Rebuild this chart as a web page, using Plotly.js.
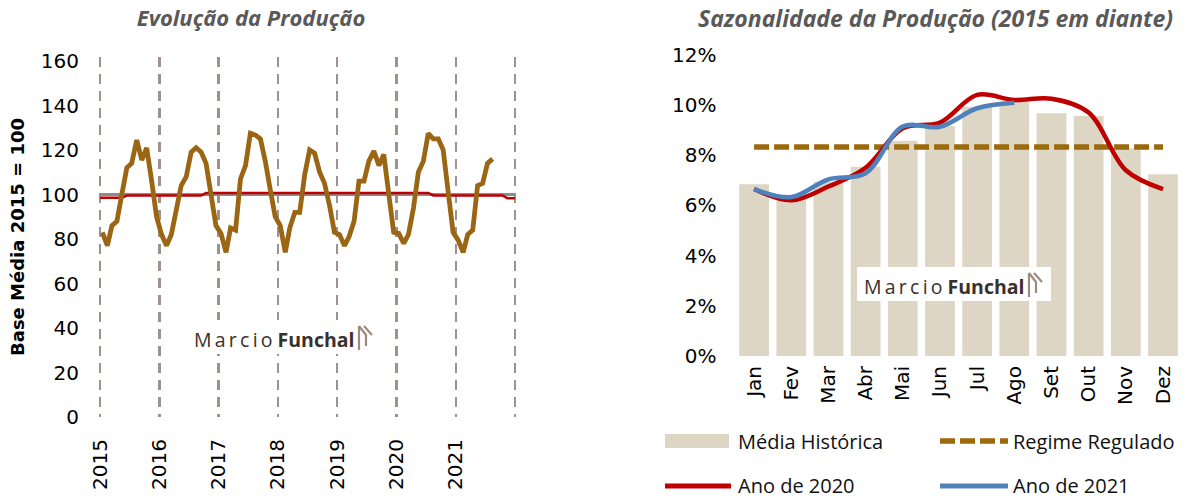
<!DOCTYPE html>
<html>
<head>
<meta charset="utf-8">
<script src="https://cdn.plot.ly/plotly-3.0.1.min.js"></script>
<style>html,body{margin:0;padding:0;background:#fff;} #chart{width:1203px;height:499px;}</style>
</head>
<body>
<div id="chart"></div>
<script>
// ---------- Left chart data (Base Média 2015 = 100) ----------
const years = [2015, 2016, 2017, 2018, 2019, 2020, 2021];
const prod2015 = [83, 77, 86, 88, 100, 112, 114, 124.5, 115.5, 121, 106, 90];
const prod2016 = [82, 77, 82, 92, 104, 108, 119, 121, 119, 114, 101, 86];
const prod2017 = [82.5, 74, 85, 84, 107, 113, 127.5, 126.7, 125, 115, 102, 90];
const prod2018 = [86, 74, 85, 92, 92, 109, 120, 118.5, 110, 105, 95, 83];
const prod2019 = [82, 77, 81, 88, 106, 106, 115, 119.5, 113, 118, 100, 83];
const prod2020 = [82.5, 78, 82, 94, 110, 115, 127.5, 125, 125, 120, 101, 83];
const prod2021 = [79.5, 74, 82, 84, 104, 105, 114, 116];
const yearTickLabels = ['2015', '2016', '2017', '2018', '2019', '2020', '2021', ''];

const baseDates = ['2015-01-01', '2021-12-31'];
const baseValues = [100, 100];
const regimeDates = ['2015-01-01', '2015-05-15', '2015-06-15', '2016-09-15', '2016-10-15',
                     '2020-07-15', '2020-08-15', '2021-10-15', '2021-11-15', '2021-12-31'];
const regimeValues = [98.5, 98.5, 99.5, 99.5, 100.7, 100.7, 99.6, 99.6, 98.3, 98.3];

// ---------- Right chart data (Sazonalidade, %) ----------
const months = ['Jan', 'Fev', 'Mar', 'Abr', 'Mai', 'Jun', 'Jul', 'Ago', 'Set', 'Out', 'Nov', 'Dez'];
const mediaHistorica = [6.84, 6.25, 6.94, 7.54, 8.57, 9.16, 9.93, 10.13, 9.67, 9.56, 8.27, 7.24];
const regimeRegulado = [8.33, 8.33, 8.33, 8.33, 8.33, 8.33, 8.33, 8.33, 8.33, 8.33, 8.33, 8.33];
const ano2020 = [6.65, 6.2, 6.75, 7.5, 9.07, 9.3, 10.4, 10.2, 10.25, 9.7, 7.4, 6.65];
const ano2021 = [6.65, 6.33, 7.04, 7.28, 9.14, 9.13, 9.87, 10.09];
const pctTickVals = [0, 2, 4, 6, 8, 10, 12];
const pctTickText = ['0%', '2%', '4%', '6%', '8%', '10%', '12%'];

// ---------- helpers ----------
const W = 1203, H = 499;
const px = x => x / W;
const py = y => 1 - y / H;
const pad = n => (n < 10 ? '0' : '') + n;

const prodSeries = [prod2015, prod2016, prod2017, prod2018, prod2019, prod2020, prod2021];
const prodX = [], prodY = [];
prodSeries.forEach((arr, i) => {
  arr.forEach((v, m) => { prodX.push(years[i] + '-' + pad(m + 1) + '-15'); prodY.push(v); });
});
const yearTicks = years.map(y => y + '-01-01').concat(['2022-01-01']);

const BROWN = '#9A6614';
const RED = '#C00000';
const BLUE = '#4F81BD';
const BAR = '#DDD6C4';
const GRAY = '#8C8C8C';

const traces = [
  {x: baseDates, y: baseValues, type: 'scatter', mode: 'lines', xaxis: 'x', yaxis: 'y',
   line: {color: GRAY, width: 3}, showlegend: false, hoverinfo: 'skip'},
  {x: regimeDates, y: regimeValues, type: 'scatter', mode: 'lines', xaxis: 'x', yaxis: 'y',
   line: {color: RED, width: 2.5}, showlegend: false},
  {x: prodX, y: prodY, type: 'scatter', mode: 'lines', xaxis: 'x', yaxis: 'y',
   line: {color: BROWN, width: 4.8}, showlegend: false},
  {x: months, y: mediaHistorica, type: 'bar', xaxis: 'x2', yaxis: 'y2', name: 'Média Histórica',
   marker: {color: BAR}, showlegend: false},
  {x: months, y: regimeRegulado, type: 'scatter', mode: 'lines', xaxis: 'x2', yaxis: 'y2', name: 'Regime Regulado',
   line: {color: '#9C6A0A', width: 5.5, dash: '15px,5px'}, showlegend: false},
  {x: months, y: ano2020, type: 'scatter', mode: 'lines', xaxis: 'x2', yaxis: 'y2', name: 'Ano de 2020',
   line: {color: RED, width: 4.5, shape: 'spline'}, showlegend: false},
  {x: months.slice(0, ano2021.length), y: ano2021, type: 'scatter', mode: 'lines', xaxis: 'x2', yaxis: 'y2', name: 'Ano de 2021',
   line: {color: BLUE, width: 4.5, shape: 'spline'}, showlegend: false}
];

const tickFont = {family: 'DejaVu Sans', size: 20, color: '#000'};
const titleFontL = {family: 'Open Sans', size: 22, color: '#595959', style: 'italic', weight: 'bold'};
const titleFontR = {family: 'Open Sans', size: 23, color: '#595959', style: 'italic', weight: 'bold'};
const legFont = {family: 'Open Sans', size: 20, color: '#111'};

// ----- legend (custom, 2x2) -----
const shapes = [
  {type: 'rect', xref: 'paper', yref: 'paper', x0: px(665), x1: px(729), y0: py(448), y1: py(434), fillcolor: BAR, line: {width: 0}},
  {type: 'line', xref: 'paper', yref: 'paper', x0: px(940), x1: px(1008), y0: py(441), y1: py(441), line: {color: '#9C6A0A', width: 5.5, dash: '15px,5px'}},
  {type: 'line', xref: 'paper', yref: 'paper', x0: px(665), x1: px(731), y0: py(486), y1: py(486), line: {color: RED, width: 5}},
  {type: 'line', xref: 'paper', yref: 'paper', x0: px(940), x1: px(1008), y0: py(486), y1: py(486), line: {color: BLUE, width: 5}}
];
// watermark boxes + icons
function wmIcon(x0, top, bottom) {
  const p = (x, y) => px(x) + ',' + py(y);
  return [
    {type: 'rect', layer: 'above', xref: 'paper', yref: 'paper', x0: px(x0 - 172), x1: px(x0 + 22), y0: py(bottom + 4), y1: py(top - 6), fillcolor: '#fff', line: {width: 0}},
    {type: 'path', layer: 'above', xref: 'paper', yref: 'paper', line: {color: '#A08A7C', width: 2.2},
     path: 'M' + p(x0, top) + ' L' + p(x0, bottom) + ' M' + p(x0, top) + ' L' + p(x0 + 7, top + 9) + ' L' + p(x0 + 7, bottom - 4) +
           ' M' + p(x0 + 5, top) + ' L' + p(x0 + 13, top + 9)}
  ];
}
shapes.push(...wmIcon(359, 326, 350));
shapes.push(...wmIcon(1029, 273, 297));

const wmText = 'M\u2009a\u2009r\u2009c\u2009i\u2009o <b>Funchal</b>';
const wmFont = {family: 'Open Sans', size: 19.5, color: '#3a302b'};
const annotations = [
  {text: 'Sazonalidade da Produção (2015 em diante)', xref: 'paper', yref: 'paper', x: px(935), y: py(18),
   xanchor: 'center', yanchor: 'middle', showarrow: false, font: titleFontR},
  {text: wmText, xref: 'paper', yref: 'paper', x: px(357), y: py(339), xanchor: 'right', yanchor: 'middle',
   showarrow: false, font: wmFont},
  {text: wmText, xref: 'paper', yref: 'paper', x: px(1027), y: py(286), xanchor: 'right', yanchor: 'middle',
   showarrow: false, font: wmFont},
  {text: 'Média Histórica', xref: 'paper', yref: 'paper', x: px(736), y: py(441), xanchor: 'left', yanchor: 'middle', showarrow: false, font: legFont},
  {text: 'Regime Regulado', xref: 'paper', yref: 'paper', x: px(1011), y: py(441), xanchor: 'left', yanchor: 'middle', showarrow: false, font: legFont},
  {text: 'Ano de 2020', xref: 'paper', yref: 'paper', x: px(736), y: py(485), xanchor: 'left', yanchor: 'middle', showarrow: false, font: legFont},
  {text: 'Ano de 2021', xref: 'paper', yref: 'paper', x: px(1011), y: py(485), xanchor: 'left', yanchor: 'middle', showarrow: false, font: legFont}
];

const layout = {
  width: W, height: H,
  margin: {l: 0, r: 0, t: 0, b: 0, pad: 0},
  paper_bgcolor: '#fff', plot_bgcolor: 'rgba(0,0,0,0)',
  showlegend: false,
  title: {text: 'Evolução da Produção', x: px(251), xanchor: 'center', xref: 'container',
          y: py(18), yanchor: 'middle', yref: 'container', font: titleFontL},
  xaxis: {domain: [px(90), px(525)], type: 'date', range: ['2014-10-31', '2022-03-03'],
          tickmode: 'array', tickvals: yearTicks, ticktext: yearTickLabels, tickangle: -90,
          tickfont: tickFont, ticks: '', showline: false, zeroline: false,
          showgrid: true, gridcolor: '#9E938C', gridwidth: 2.5, griddash: '10px,7px',
          ticklabelstandoff: 17, automargin: false, anchor: 'y', fixedrange: true},
  yaxis: {domain: [py(417), py(57)], range: [0, 161.8], tickmode: 'array',
          tickvals: [0, 20, 40, 60, 80, 100, 120, 140, 160], tickfont: tickFont,
          ticks: '', showline: false, zeroline: false, showgrid: false, ticklabelstandoff: 10,
          automargin: false, anchor: 'x',
          title: {text: '<b>Base Média 2015 = 100</b>', font: {family: 'DejaVu Sans', size: 18, color: '#000'}, standoff: 11}},
  xaxis2: {domain: [px(735.5), px(1181.6)], type: 'category', range: [-0.5, 11.5], tickangle: -90,
           tickfont: {family: 'DejaVu Sans', size: 20, color: '#000'}, ticks: '', showline: false,
           showgrid: false, zeroline: false, automargin: false, anchor: 'y2', ticklabelstandoff: 5},
  yaxis2: {domain: [py(356), py(50)], range: [0, 12.19], tickmode: 'array', tickvals: pctTickVals,
           ticktext: pctTickText, tickfont: tickFont, ticks: '', showline: false, showgrid: false, zeroline: false,
           automargin: false, anchor: 'x2', ticklabelstandoff: 18},
  bargap: 0.2,
  shapes: shapes,
  annotations: annotations
};

Plotly.newPlot('chart', traces, layout, {displayModeBar: false, staticPlot: true});
</script>
</body>
</html>
